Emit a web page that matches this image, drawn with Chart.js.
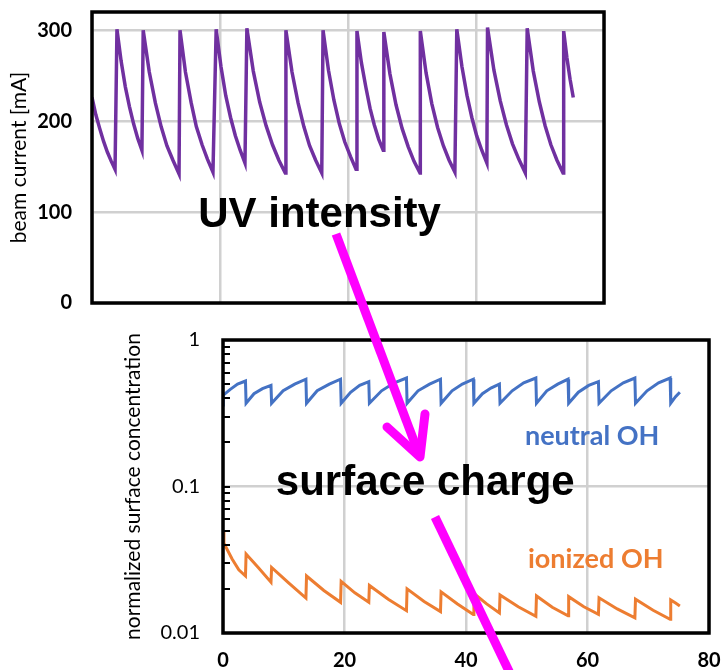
<!DOCTYPE html>
<html>
<head>
<meta charset="utf-8">
<script src="https://cdn.jsdelivr.net/npm/chart.js@4.4.0/dist/chart.umd.min.js"></script>
<style>
  html, body { margin: 0; padding: 0; background: #fff; }
  #wrap { position: relative; width: 725px; height: 670px; overflow: hidden; }
  #beam { position: absolute; left: 0; top: 0; }
  #conc { position: absolute; left: 100px; top: 320px; }
  #arrows { position: absolute; left: 0; top: 0; pointer-events: none; }
</style>
</head>
<body>
<div id="wrap">
  <canvas id="beam" width="620" height="320"></canvas>
  <canvas id="conc" width="625" height="350"></canvas>
  <svg id="arrows" width="725" height="670">
    <g stroke="#ff00ff" stroke-width="9" fill="none">
      <line x1="336" y1="234" x2="420" y2="457" />
      <polyline points="387,427 420,457 425,414" stroke-linecap="round" stroke-linejoin="round" />
      <line x1="435" y1="517" x2="518" y2="690" />
    </g>
  </svg>
</div>
<script>
// top panel: beam current vs time
const beamTime = [0, 0.6, 1.2, 1.8, 2.4, 3.0, 3.6,
  3.9, 4.55, 5.2, 5.85, 6.5, 7.15, 7.8,
  8.0, 8.95, 9.9, 10.8, 11.7, 12.65, 13.6,
  13.75, 14.6, 15.5, 16.3, 17.2, 18.05, 18.9,
  19.4, 20.15, 20.9, 21.65, 22.4, 23.15, 23.9,
  24.2, 25.2, 26.2, 27.2, 28.2, 29.2, 30.2,
  30.3, 31.25, 32.2, 33.1, 34.0, 34.95, 35.9,
  36.1, 36.95, 37.8, 38.65, 39.5, 40.4, 41.25,
  41.4, 42.1, 42.8, 43.45, 44.1, 44.8, 45.5,
  45.6, 46.55, 47.5, 48.45, 49.4, 50.3, 51.25,
  51.3, 52.2, 53.1, 54.0, 54.9, 55.8, 56.7,
  57.0, 57.8, 58.6, 59.35, 60.1, 60.9, 61.7,
  61.8, 62.8, 63.8, 64.75, 65.7, 66.7, 67.7,
  68.0, 68.95, 69.9, 70.8, 71.7, 72.65, 73.6,
  73.7, 74.2, 74.7, 75.2];
const beamCurrent = [226, 207, 192, 178, 166, 156, 147,
  301, 266, 238, 216, 197, 181, 168,
  300, 254, 220, 194, 173, 157, 142,
  300, 254, 220, 194, 174, 158, 144,
  301, 260, 228, 204, 184, 168, 154,
  302, 255, 221, 195, 174, 157, 143,
  300, 254, 220, 194, 173, 157, 143,
  300, 256, 223, 197, 177, 161, 147,
  299, 264, 237, 214, 196, 180, 168,
  298, 252, 218, 192, 172, 156, 143,
  299, 253, 219, 193, 173, 157, 144,
  301, 260, 228, 204, 184, 168, 154,
  303, 256, 222, 196, 175, 158, 143,
  302, 255, 221, 195, 174, 157, 143,
  299, 270, 246, 226];
const beamYTicks = [0, 100, 200, 300];
const beamXTicks = [0, 20, 40, 60, 80];

// bottom panel: normalized surface concentration (log scale)
const neutralTime = [0, 0.05, 1.2, 2.4, 3.7,
  3.8, 5.1, 6.5, 7.9,
  8.0, 9.9, 11.8, 13.65,
  13.75, 15.5, 17.5, 19.35,
  19.45, 21.0, 22.5, 24.0,
  24.1, 26.1, 28.2, 30.2,
  30.3, 32.1, 34.0, 35.8,
  35.9, 37.7, 39.4, 41.2,
  41.3, 42.7, 44.1, 45.5,
  45.6, 47.6, 49.5, 51.5,
  51.6, 53.3, 55.1, 56.8,
  56.9, 58.5, 60.2, 61.8,
  61.9, 63.9, 65.9, 67.8,
  67.9, 69.8, 71.7, 73.6,
  73.7, 74.5, 75.2];
const neutralOH = [0.36, 0.42, 0.46, 0.50, 0.525,
  0.37, 0.43, 0.465, 0.49,
  0.37, 0.45, 0.50, 0.54,
  0.37, 0.45, 0.50, 0.54,
  0.37, 0.44, 0.49, 0.52,
  0.37, 0.45, 0.51, 0.55,
  0.37, 0.45, 0.50, 0.54,
  0.37, 0.45, 0.50, 0.54,
  0.37, 0.43, 0.47, 0.50,
  0.37, 0.45, 0.51, 0.55,
  0.37, 0.45, 0.50, 0.54,
  0.37, 0.44, 0.49, 0.52,
  0.37, 0.45, 0.51, 0.55,
  0.37, 0.45, 0.51, 0.55,
  0.37, 0.41, 0.44];
const ionizedTime = [0, 0.15, 1.5, 2.6, 3.7,
  3.8, 5.8, 7.9,
  8.0, 10.8, 13.65,
  13.75, 16.6, 19.35,
  19.45, 21.7, 24.0,
  24.1, 27.2, 30.2,
  30.3, 33.1, 35.8,
  35.9, 38.6, 41.2,
  41.3, 43.4, 45.5,
  45.6, 48.6, 51.5,
  51.6, 54.2, 56.8,
  56.9, 59.4, 61.8,
  61.9, 64.9, 67.8,
  67.9, 70.8, 73.6,
  73.7, 74.5, 75.2];
const ionizedOH = [0.049, 0.041, 0.032, 0.027, 0.0245,
  0.0346, 0.028, 0.0222,
  0.028, 0.022, 0.0173,
  0.0245, 0.0195, 0.0162,
  0.0225, 0.0188, 0.0162,
  0.0211, 0.0170, 0.0142,
  0.0200, 0.0164, 0.0140,
  0.0191, 0.0158, 0.0134,
  0.0186, 0.0158, 0.0137,
  0.0182, 0.0151, 0.0130,
  0.0179, 0.0150, 0.0131,
  0.0177, 0.0151, 0.0134,
  0.0174, 0.0146, 0.0127,
  0.0170, 0.0143, 0.0124,
  0.0168, 0.0160, 0.0153];
const concYTicks = [0.01, 0.1, 1];
const concXTicks = [0, 20, 40, 60, 80];

Chart.defaults.font.family = 'Lato';
Chart.defaults.color = '#000';

const gridColor = '#d0d0d0';
const toPoints = (xs, ys) => xs.map((x, i) => ({ x: x, y: ys[i] }));
const setTicks = list => scale => { scale.ticks = list.map(v => ({ value: v })); };
// fixed axis size, and no extra room asked for tick labels
const fixSize = (key, size) => scale => {
  scale[key] = size;
  scale.paddingTop = 0; scale.paddingBottom = 0;
  scale.paddingLeft = 0; scale.paddingRight = 0;
};

// black box round the plot area
const framePlugin = {
  id: 'frame',
  afterDatasetsDraw(chart) {
    const { ctx, chartArea: a } = chart;
    ctx.save();
    ctx.strokeStyle = '#000';
    ctx.lineWidth = 3.5;
    ctx.strokeRect(a.left, a.top, a.right - a.left, a.bottom - a.top);
    ctx.restore();
  }
};

// text labels placed in data coordinates
function notesPlugin(items) {
  return {
    id: 'notes',
    afterDraw(chart) {
      const { ctx, scales } = chart;
      ctx.save();
      ctx.textAlign = 'left';
      ctx.textBaseline = 'alphabetic';
      items.forEach(n => {
        ctx.font = n.font;
        ctx.fillStyle = n.color;
        ctx.fillText(n.text, scales.x.getPixelForValue(n.x), scales.y.getPixelForValue(n.y));
      });
      ctx.restore();
    }
  };
}

// small inward ticks on the log axis
const minorTicksPlugin = {
  id: 'minorTicks',
  afterDatasetsDraw(chart) {
    const { ctx, chartArea: a, scales } = chart;
    ctx.save();
    ctx.strokeStyle = '#000';
    ctx.lineWidth = 2;
    for (let d = 0.01; d < 1; d *= 10) {
      for (let m = 1; m <= 9; m++) {
        const y = Math.round(scales.y.getPixelForValue(d * m));
        ctx.beginPath();
        ctx.moveTo(a.left, y);
        ctx.lineTo(a.left + 7, y);
        ctx.stroke();
      }
    }
    ctx.restore();
  }
};

new Chart(document.getElementById('beam'), {
  type: 'line',
  data: {
    datasets: [{
      data: toPoints(beamTime, beamCurrent),
      borderColor: '#7030a0',
      borderWidth: 3.5,
      pointRadius: 0,
      tension: 0,
      fill: false
    }]
  },
  options: {
    responsive: false,
    animation: false,
    layout: { padding: { left: 0, top: 12, right: 16, bottom: 0 } },
    plugins: { legend: { display: false }, tooltip: { enabled: false } },
    scales: {
      x: {
        type: 'linear', min: 0, max: 80,
        afterBuildTicks: setTicks(beamXTicks),
        afterFit: fixSize('height', 17),
        ticks: { display: false },
        grid: { color: gridColor, lineWidth: 2.5, drawTicks: false },
        border: { display: false }
      },
      y: {
        type: 'linear', min: 0, max: 320,
        afterBuildTicks: setTicks(beamYTicks),
        afterFit: fixSize('width', 92),
        ticks: { padding: 20, font: { size: 20, weight: 'bold' } },
        grid: { color: gridColor, lineWidth: 2.5, drawTicks: false },
        border: { display: false },
        title: {
          display: true, text: 'beam current [mA]',
          font: { size: 21 }, padding: { top: 7, bottom: 0 }
        }
      }
    }
  },
  plugins: [framePlugin, notesPlugin([
    { text: 'UV intensity', x: 16.6, y: 84, font: 'bold 42px "Liberation Sans", Arial, sans-serif', color: '#000' }
  ])]
});

new Chart(document.getElementById('conc'), {
  type: 'line',
  data: {
    datasets: [{
      label: 'neutral OH',
      data: toPoints(neutralTime, neutralOH),
      borderColor: '#4472c4',
      borderWidth: 3,
      pointRadius: 0,
      tension: 0,
      fill: false
    }, {
      label: 'ionized OH',
      data: toPoints(ionizedTime, ionizedOH),
      borderColor: '#ed7d31',
      borderWidth: 3,
      pointRadius: 0,
      tension: 0,
      fill: false
    }]
  },
  options: {
    responsive: false,
    animation: false,
    layout: { padding: { left: 0, top: 20, right: 16, bottom: 0 } },
    plugins: { legend: { display: false }, tooltip: { enabled: false } },
    scales: {
      x: {
        type: 'linear', min: 0, max: 80,
        afterBuildTicks: setTicks(concXTicks),
        afterFit: fixSize('height', 37),
        ticks: { padding: 16, font: { size: 20, weight: 'bold' } },
        grid: { color: gridColor, lineWidth: 2.5, drawTicks: false },
        border: { display: false }
      },
      y: {
        type: 'logarithmic', min: 0.01, max: 1,
        afterBuildTicks: setTicks(concYTicks),
        afterFit: fixSize('width', 123),
        ticks: { padding: 23, font: { size: 20 }, callback: v => String(v) },
        grid: { color: gridColor, lineWidth: 2.5, drawTicks: false },
        border: { display: false },
        title: {
          display: true, text: 'normalized surface concentration',
          font: { size: 21 }, padding: { top: 21, bottom: 0 }
        }
      }
    }
  },
  plugins: [minorTicksPlugin, framePlugin, notesPlugin([
    { text: 'surface charge', x: 8.7, y: 0.0875, font: 'bold 42px "Liberation Sans", Arial, sans-serif', color: '#000' },
    { text: 'neutral OH', x: 49.7, y: 0.192, font: 'bold 27px Lato', color: '#4472c4' },
    { text: 'ionized OH', x: 50.2, y: 0.0278, font: 'bold 27px Lato', color: '#ed7d31' }
  ])]
});
</script>
</body>
</html>
